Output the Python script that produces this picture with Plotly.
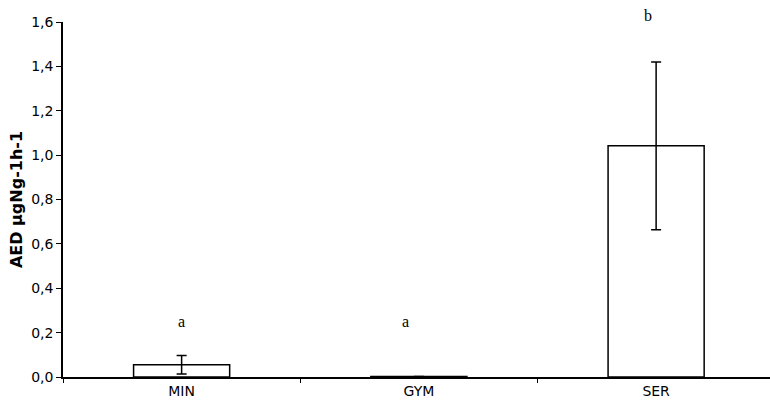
import plotly.graph_objects as go

categories = ["MIN", "GYM", "SER"]
values = [0.055, 0.002, 1.042]
errors = [0.042, 0.0, 0.378]
letters = ["a", "a", "b"]
letter_y = [0.248, 0.248, 1.63]
letter_shift = [0, -13, -8]
y_ticks = [0.0, 0.2, 0.4, 0.6, 0.8, 1.0, 1.2, 1.4, 1.6]
y_max = 1.6

fig = go.Figure()
fig.add_trace(go.Bar(
    x=categories, y=values,
    width=0.405,
    marker=dict(color="white", line=dict(color="black", width=1.5)),
    error_y=dict(type="data", array=[e if e > 0 else None for e in errors],
                 visible=True, color="black", thickness=1.5, width=5),
    showlegend=False,
))

for c, t, yv, s in zip(categories, letters, letter_y, letter_shift):
    fig.add_annotation(
        x=c, y=yv / y_max, yref="paper", yanchor="middle", xanchor="center",
        text=t, showarrow=False, xshift=s,
        font=dict(family="Liberation Serif", size=16, color="black"))

fig.update_layout(
    width=770, height=407,
    margin=dict(l=63, r=0, t=22, b=30),
    plot_bgcolor="white", paper_bgcolor="white",
    separators=",.",
    font=dict(family="DejaVu Sans", color="black"),
    xaxis=dict(range=[-0.5, 2.48], showline=True, linecolor="black", linewidth=1.5,
               ticks="outside", tickson="boundaries", ticklen=4, tickcolor="black",
               tickfont=dict(size=14), showgrid=False),
    yaxis=dict(range=[0, y_max], tickvals=y_ticks, tickformat=".1f",
               showline=True, linecolor="black", linewidth=1.5,
               ticks="outside", ticklen=5, tickcolor="black", showgrid=False,
               zeroline=False, tickfont=dict(size=14),
               title=dict(text="<b>AED µgNg-1h-1</b>", font=dict(size=16), standoff=5)),
)

fig.write_html("out.html", config={"displayModeBar": False},
               post_script="document.body.style.margin='0';")
